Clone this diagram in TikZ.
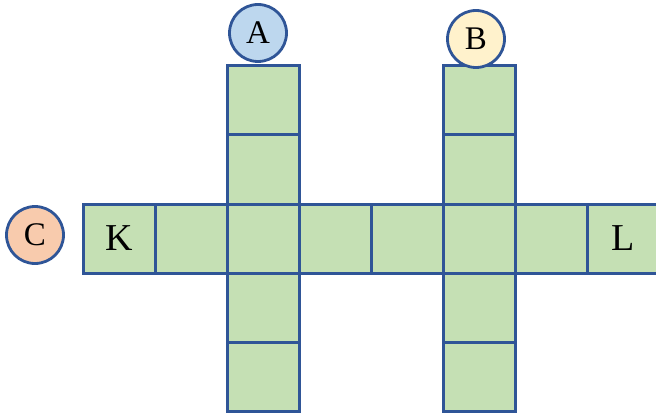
\documentclass[tikz,border=0pt]{standalone}
\usepackage{fontspec}
\setmainfont{Liberation Serif}
\usetikzlibrary{positioning}
\definecolor{cellGreen}{HTML}{C5E0B4}
\definecolor{edgeBlue}{HTML}{2F5597}
\definecolor{markBlue}{HTML}{BDD7EE}
\definecolor{markYellow}{HTML}{FFF2CC}
\definecolor{markOrange}{HTML}{F8CBAD}
\tikzset{
    cell/.style={draw=edgeBlue,fill=cellGreen,line width=3pt,
        minimum width=72pt,minimum height=69pt,inner sep=0pt,outer sep=0pt,
        font=\fontsize{38}{40}\selectfont},
    marker/.style={circle,draw=edgeBlue,line width=2.8pt,minimum size=57pt,
        inner sep=0pt,font=\fontsize{33}{35}\selectfont}
}

\begin{document}
\begin{tikzpicture}[x=1pt,y=-1pt,node distance=0pt and 0pt]
            \useasboundingbox (0,0) rectangle (656,417);
            % horizontal row
            \node[cell] (k) at (119,238.5) {K};
            \node[cell] (r2) [right=of k] {};
            \node[cell] (r3) [right=of r2] {};
            \node[cell] (r4) [right=of r3] {};
            \node[cell] (r5) [right=of r4] {};
            \node[cell] (r6) [right=of r5] {};
            \node[cell] (r7) [right=of r6] {};
            \node[cell] (l) [right=of r7] {L};
            % column A
            \node[cell] (a2) [above=of r3] {};
            \node[cell] (a1) [above=of a2] {};
            \node[cell] (a4) [below=of r3] {};
            \node[cell] (a5) [below=of a4] {};
            % column B
            \node[cell] (b2) [above=of r6] {};
            \node[cell] (b1) [above=of b2] {};
            \node[cell] (b4) [below=of r6] {};
            \node[cell] (b5) [below=of b4] {};
            % markers
            \node[marker,fill=markBlue] (ma) at (258,33) {A};
            \node[marker,fill=markYellow] (mb) at (476,39) {B};
            \node[marker,fill=markOrange] (mc) at (35,235) {C};
        \end{tikzpicture}
\end{document}
